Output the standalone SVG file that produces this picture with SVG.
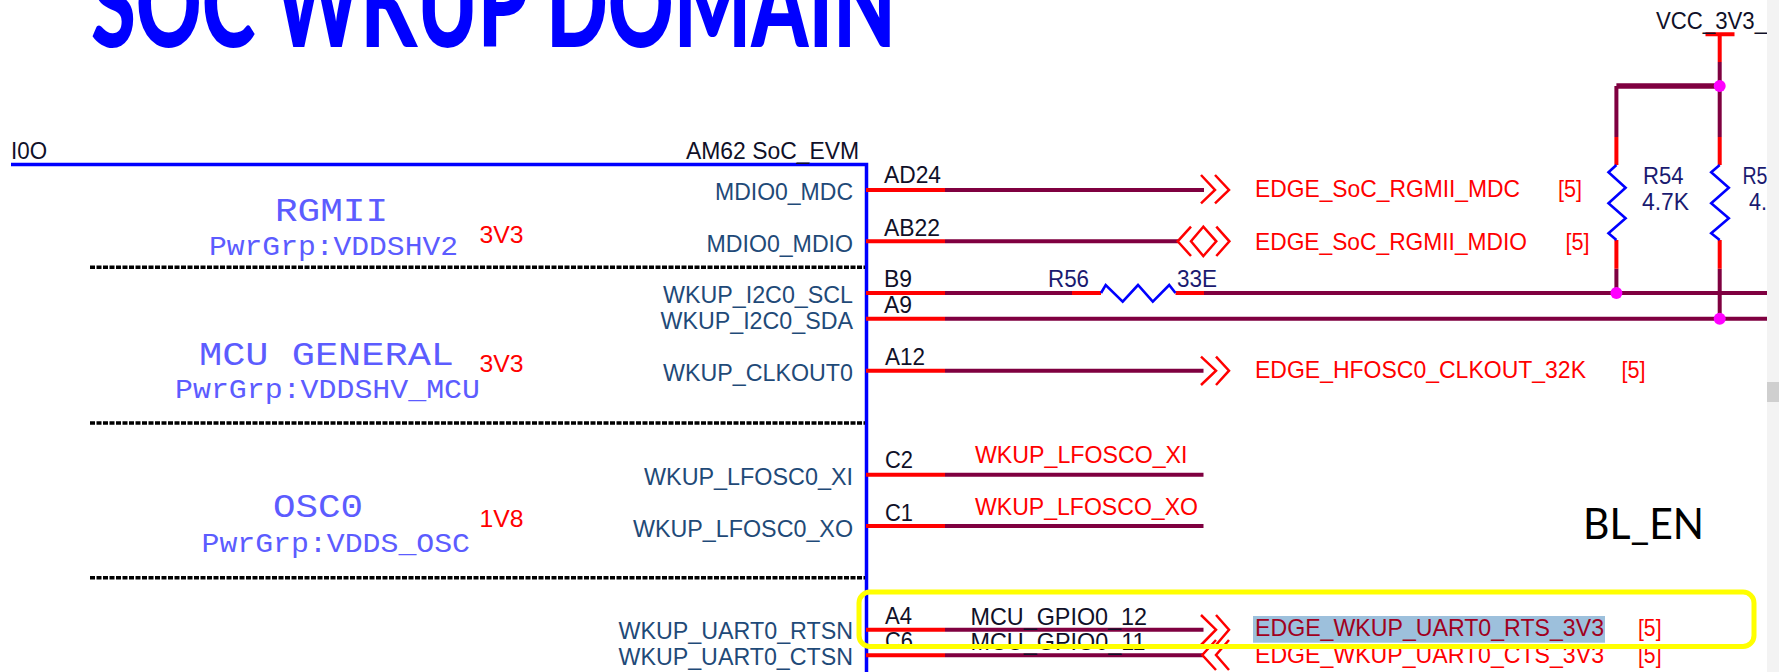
<svg xmlns="http://www.w3.org/2000/svg" width="1779" height="672" viewBox="0 0 1779 672">
<style>
text{font-family:"Liberation Sans",Arial,sans-serif;font-size:24px}
.title{font-family:Lato,"Open Sans",sans-serif;font-weight:900;font-size:122px;fill:#0000ff}
.pin{fill:#1f4a78}
.num{fill:#101028}
.ref{fill:#1a1a70}
.net{fill:#ff0000}
.hl{fill:#a00020}
.grp{font-family:"Liberation Mono",monospace;fill:#5c5cff;font-size:34px}
.sub{font-family:"Liberation Mono",monospace;fill:#5c5cff;font-size:28px}
.r{stroke:#ff0000;stroke-width:4;fill:none}
.p{stroke:#7f0040;stroke-width:4;fill:none}
.a{stroke:#ff0000;stroke-width:2.500;fill:none}
.z{stroke:#0000ff;stroke-width:2.600;fill:none}
.d{stroke:#000;stroke-width:3.500;stroke-dasharray:5 1.500;fill:none}
.j{fill:#ff00ff}
</style>
<rect width="1779" height="672" fill="#ffffff"/>
<text class="title" x="91" y="47" textLength="805" lengthAdjust="spacingAndGlyphs">SOC WKUP DOMAIN</text>

<g id="soc-block">
<path d="M11 164.500H866.500V672" fill="none" stroke="#0000ff" stroke-width="3.500"/>
<path class="d" d="M90 267.300H865M90 423H865M90 577.700H865"/>
<text class="num" x="11" y="158.700" textLength="36" lengthAdjust="spacingAndGlyphs">I0O</text>
<text class="num" x="686" y="158.700" textLength="173" lengthAdjust="spacingAndGlyphs">AM62 SoC_EVM</text>
</g>

<g id="group-rgmii">
<text class="grp" x="275" y="220.700" textLength="113" lengthAdjust="spacingAndGlyphs">RGMII</text>
<text class="sub" x="209" y="255.300" textLength="249" lengthAdjust="spacingAndGlyphs">PwrGrp:VDDSHV2</text>
<text class="net" x="479.500" y="242.700" textLength="44" lengthAdjust="spacingAndGlyphs">3V3</text>
</g>
<g id="group-mcu">
<text class="grp" x="199" y="365.300" textLength="255" lengthAdjust="spacingAndGlyphs">MCU GENERAL</text>
<text class="sub" x="175" y="397.700" textLength="305" lengthAdjust="spacingAndGlyphs">PwrGrp:VDDSHV_MCU</text>
<text class="net" x="479.500" y="371.700" textLength="44" lengthAdjust="spacingAndGlyphs">3V3</text>
</g>
<g id="group-osc">
<text class="grp" x="273" y="517.300" textLength="90" lengthAdjust="spacingAndGlyphs">OSC0</text>
<text class="sub" x="201.500" y="551.700" textLength="268.500" lengthAdjust="spacingAndGlyphs">PwrGrp:VDDS_OSC</text>
<text class="net" x="479.500" y="527.300" textLength="44" lengthAdjust="spacingAndGlyphs">1V8</text>
</g>

<g id="pin-names">
<text class="pin" x="715" y="200" textLength="138" lengthAdjust="spacingAndGlyphs">MDIO0_MDC</text>
<text class="pin" x="706.500" y="251.700" textLength="146.500" lengthAdjust="spacingAndGlyphs">MDIO0_MDIO</text>
<text class="pin" x="663" y="303.300" textLength="190" lengthAdjust="spacingAndGlyphs">WKUP_I2C0_SCL</text>
<text class="pin" x="660.500" y="329.300" textLength="192.500" lengthAdjust="spacingAndGlyphs">WKUP_I2C0_SDA</text>
<text class="pin" x="663" y="380.700" textLength="190" lengthAdjust="spacingAndGlyphs">WKUP_CLKOUT0</text>
<text class="pin" x="644" y="485" textLength="209" lengthAdjust="spacingAndGlyphs">WKUP_LFOSC0_XI</text>
<text class="pin" x="633" y="536.700" textLength="220" lengthAdjust="spacingAndGlyphs">WKUP_LFOSC0_XO</text>
<text class="pin" x="618.500" y="639.300" textLength="234.500" lengthAdjust="spacingAndGlyphs">WKUP_UART0_RTSN</text>
<text class="pin" x="618.500" y="665" textLength="234.500" lengthAdjust="spacingAndGlyphs">WKUP_UART0_CTSN</text>
</g>

<g id="connectors">
<path class="p" d="M945 190H1204M945 241.300H1178M945 293H1072M1204 293H1767M945 318.700H1767M945 370.700H1203.500M945 474.700H1203.500M945 526H1203.500M945 629.700H1203.500M945 655.300H1203.500"/>
<path class="p" d="M1719.700 62V137M1616.400 86V137M1616.400 268.700V293M1719.700 268.700V318.700"/>
<path class="p" d="M1616.400 86H1719.700" style="stroke-width:5.500"/>
<path class="r" d="M866 190H945M866 241.300H945M866 293H945M1072 293H1101M1175.500 293H1204M866 318.700H945M866 370.700H945M866 474.700H945M866 526H945M866 629.700H945M866 655.300H945"/>
<path class="r" d="M1719.700 34.300V62M1705.500 34.300H1734.500M1616.400 137V165M1616.400 240V268.700M1719.700 137V165M1719.700 240V268.700"/>
</g>

<g id="r56">
<path class="z" d="M1101 293L1105.700 285L1122.700 301.700L1138 285L1152.800 301.700L1169.200 285L1175.500 293"/>
<text class="ref" x="1048" y="287.300" textLength="41" lengthAdjust="spacingAndGlyphs">R56</text>
<text class="ref" x="1177" y="287.300" textLength="40" lengthAdjust="spacingAndGlyphs">33E</text>
</g>
<g id="r54">
<path class="z" d="M1616.400 165L1608.500 172.300L1625.600 187.700L1608.500 203.300L1625.600 218.300L1608.500 233.300L1616.400 240"/>
<text class="ref" x="1643" y="184.300" textLength="40.500" lengthAdjust="spacingAndGlyphs">R54</text>
<text class="ref" x="1642" y="210" textLength="47" lengthAdjust="spacingAndGlyphs">4.7K</text>
</g>
<g id="r55">
<path class="z" d="M1719.700 165L1711.200 172.300L1728.800 187.700L1711.200 203.300L1728.800 218.300L1711.200 233.300L1719.700 240"/>
<text class="ref" x="1742.500" y="184.300" textLength="25" lengthAdjust="spacingAndGlyphs">R5</text>
<text class="ref" x="1749" y="210" textLength="18" lengthAdjust="spacingAndGlyphs">4.</text>
</g>

<g id="junctions">
<circle class="j" cx="1616.400" cy="293" r="6"/>
<circle class="j" cx="1719.700" cy="86" r="6"/>
<circle class="j" cx="1719.700" cy="318.700" r="6"/>
</g>

<g id="vcc">
<text class="num" x="1656" y="29" textLength="111" lengthAdjust="spacingAndGlyphs">VCC_3V3_</text>
</g>

<g id="pin-numbers">
<text class="num" x="884" y="183.300" textLength="57" lengthAdjust="spacingAndGlyphs">AD24</text>
<text class="num" x="884" y="236" textLength="56" lengthAdjust="spacingAndGlyphs">AB22</text>
<text class="num" x="884" y="287.300" textLength="28" lengthAdjust="spacingAndGlyphs">B9</text>
<text class="num" x="884" y="313.300" textLength="28" lengthAdjust="spacingAndGlyphs">A9</text>
<text class="num" x="885" y="365" textLength="40" lengthAdjust="spacingAndGlyphs">A12</text>
<text class="num" x="885" y="468.300" textLength="28" lengthAdjust="spacingAndGlyphs">C2</text>
<text class="num" x="885" y="521" textLength="28" lengthAdjust="spacingAndGlyphs">C1</text>
<text class="num" x="885" y="624" textLength="27" lengthAdjust="spacingAndGlyphs">A4</text>
<text class="num" x="885" y="649.300" textLength="28" lengthAdjust="spacingAndGlyphs">C6</text>
</g>

<g id="port-mdc">
<path class="a" d="M1201 175L1215 190L1201 203.300M1215 175L1229 190L1215 203.300"/>
<text class="net" x="1255" y="197.300" textLength="265" lengthAdjust="spacingAndGlyphs">EDGE_SoC_RGMII_MDC</text>
<text class="net" x="1558" y="197.300" textLength="24" lengthAdjust="spacingAndGlyphs">[5]</text>
</g>
<g id="port-mdio">
<path class="a" d="M1191 226.700L1177.700 241.300L1191 256M1203.300 226.700L1191 241.300L1203.300 256L1216.300 241.300ZM1216.300 226.700L1229.400 241.300L1216.300 256"/>
<text class="net" x="1255" y="250" textLength="272" lengthAdjust="spacingAndGlyphs">EDGE_SoC_RGMII_MDIO</text>
<text class="net" x="1565.500" y="250" textLength="24" lengthAdjust="spacingAndGlyphs">[5]</text>
</g>
<g id="port-clkout">
<path class="a" d="M1201 356.700L1216 370.700L1201 385M1216 356.700L1229 370.700L1216 385"/>
<text class="net" x="1255" y="378.300" textLength="331" lengthAdjust="spacingAndGlyphs">EDGE_HFOSC0_CLKOUT_32K</text>
<text class="net" x="1621.500" y="378.300" textLength="24" lengthAdjust="spacingAndGlyphs">[5]</text>
</g>
<g id="net-lfosc">
<text class="net" x="975" y="462.700" textLength="212.500" lengthAdjust="spacingAndGlyphs">WKUP_LFOSCO_XI</text>
<text class="net" x="975" y="515" textLength="223" lengthAdjust="spacingAndGlyphs">WKUP_LFOSCO_XO</text>
</g>
<g id="port-rts">
<rect x="1253" y="616" width="352" height="26.700" fill="#9dc0dc"/>
<path class="a" d="M1201 615L1216 629.700L1201 645M1216 615L1229 629.700L1216 645"/>
<text class="num" x="970.500" y="625" textLength="176.500" lengthAdjust="spacingAndGlyphs">MCU_GPIO0_12</text>
<text class="hl" x="1255" y="636" textLength="349" lengthAdjust="spacingAndGlyphs">EDGE_WKUP_UART0_RTS_3V3</text>
<text class="net" x="1638" y="636" textLength="23.500" lengthAdjust="spacingAndGlyphs">[5]</text>
</g>
<g id="port-cts">
<path class="a" d="M1216 640L1202.300 655L1216 670M1229 640L1216 655L1229 670"/>
<text class="num" x="970.500" y="650" textLength="175" lengthAdjust="spacingAndGlyphs">MCU_GPIO0_11</text>
<text class="net" x="1255" y="662.700" textLength="349" lengthAdjust="spacingAndGlyphs">EDGE_WKUP_UART0_CTS_3V3</text>
<text class="net" x="1638" y="662.700" textLength="23.500" lengthAdjust="spacingAndGlyphs">[5]</text>
</g>
<text x="1583" y="539" textLength="121" lengthAdjust="spacingAndGlyphs" style="font-family:Lato,'Open Sans',sans-serif;font-size:42px;fill:#000">BL_EN</text>

<rect id="highlight" x="859" y="592" width="895" height="54.500" rx="11" fill="none" stroke="#ffff00" stroke-width="5"/>

<rect x="1767" y="0" width="12" height="672" fill="#f3f3f3"/>
<rect x="1767" y="382" width="12" height="20" fill="#cfcfcf"/>
</svg>
